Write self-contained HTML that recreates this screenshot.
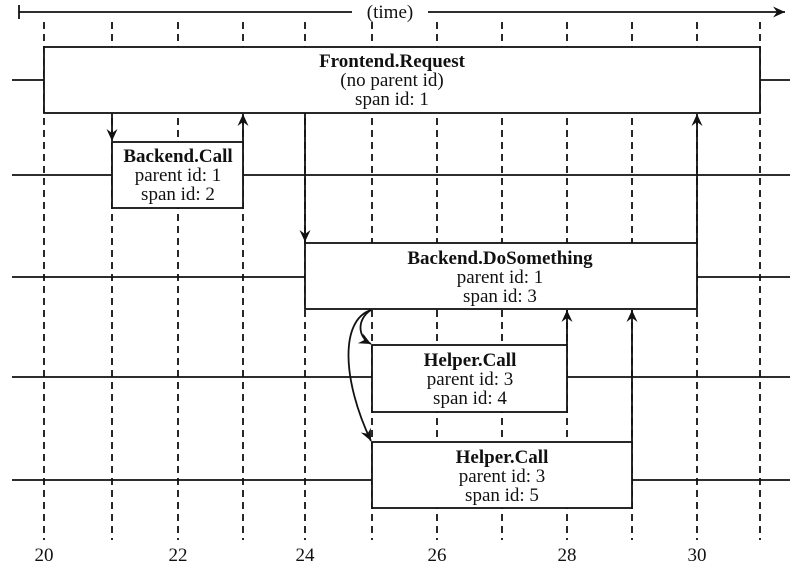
<!DOCTYPE html>
<html><head><meta charset="utf-8"><style>html,body{margin:0;padding:0;background:#fff}svg{display:block}</style></head>
<body>
<svg width="800" height="570" xmlns="http://www.w3.org/2000/svg" font-family="Liberation Serif, serif" font-size="19">
<defs>
<marker id="a" markerWidth="14" markerHeight="14" refX="12" refY="6" orient="auto" markerUnits="userSpaceOnUse">
<path d="M0,0.5 L12,6 L0,11.5 L4,6 Z" fill="#111"/></marker>
</defs>
<g stroke="#111" stroke-width="1.8" fill="none">
<line x1="19" y1="5" x2="19" y2="19"/>
<line x1="19" y1="12" x2="352" y2="12"/>
<line x1="428" y1="12" x2="785" y2="12" marker-end="url(#a)"/>
<g stroke-dasharray="7,5">
<line x1="44" y1="22" x2="44" y2="540"/>
<line x1="112" y1="22" x2="112" y2="540"/>
<line x1="178" y1="22" x2="178" y2="540"/>
<line x1="243" y1="22" x2="243" y2="540"/>
<line x1="305" y1="22" x2="305" y2="540"/>
<line x1="372" y1="22" x2="372" y2="540"/>
<line x1="437" y1="22" x2="437" y2="540"/>
<line x1="502" y1="22" x2="502" y2="540"/>
<line x1="567" y1="22" x2="567" y2="540"/>
<line x1="632" y1="22" x2="632" y2="540"/>
<line x1="697" y1="22" x2="697" y2="540"/>
<line x1="760" y1="22" x2="760" y2="540"/>
</g>
<line x1="12" y1="80" x2="44" y2="80"/><line x1="760" y1="80" x2="790" y2="80"/>
<line x1="12" y1="175" x2="112" y2="175"/><line x1="243" y1="175" x2="790" y2="175"/>
<line x1="12" y1="277" x2="305" y2="277"/><line x1="697" y1="277" x2="790" y2="277"/>
<line x1="12" y1="377" x2="372" y2="377"/><line x1="567" y1="377" x2="790" y2="377"/>
<line x1="12" y1="480" x2="372" y2="480"/><line x1="632" y1="480" x2="790" y2="480"/>
</g>
<g stroke="#111" stroke-width="1.8" fill="#fff">
<rect x="44" y="47" width="716" height="66"/>
<rect x="112" y="142" width="131" height="66"/>
<rect x="305" y="243" width="392" height="66"/>
<rect x="372" y="345" width="195" height="67"/>
<rect x="372" y="442" width="260" height="66"/>
</g>
<g stroke="#111" stroke-width="1.8" fill="none">
<line x1="112" y1="113" x2="112" y2="141" marker-end="url(#a)"/>
<line x1="243" y1="142" x2="243" y2="114" marker-end="url(#a)"/>
<line x1="305" y1="113" x2="305" y2="242" marker-end="url(#a)"/>
<line x1="697" y1="243" x2="697" y2="114" marker-end="url(#a)"/>
<line x1="567" y1="345" x2="567" y2="310" marker-end="url(#a)"/>
<line x1="632" y1="442" x2="632" y2="310" marker-end="url(#a)"/>
<path d="M371,310 C358,318 356,336 371,344" marker-end="url(#a)"/>
<path d="M371,310 C340,320 342,380 371,441" marker-end="url(#a)"/>
</g>
<g fill="#111" text-anchor="middle">
<text x="390" y="18">(time)</text>
<text x="392" y="67" font-weight="bold">Frontend.Request</text>
<text x="392" y="86">(no parent id)</text>
<text x="392" y="105">span id: 1</text>
<text x="178" y="162" font-weight="bold">Backend.Call</text>
<text x="178" y="181">parent id: 1</text>
<text x="178" y="200">span id: 2</text>
<text x="500" y="264" font-weight="bold">Backend.DoSomething</text>
<text x="500" y="283">parent id: 1</text>
<text x="500" y="302">span id: 3</text>
<text x="470" y="366" font-weight="bold">Helper.Call</text>
<text x="470" y="385">parent id: 3</text>
<text x="470" y="404">span id: 4</text>
<text x="502" y="463" font-weight="bold">Helper.Call</text>
<text x="502" y="482">parent id: 3</text>
<text x="502" y="501">span id: 5</text>
<text x="44" y="561">20</text>
<text x="178" y="561">22</text>
<text x="305" y="561">24</text>
<text x="437" y="561">26</text>
<text x="567" y="561">28</text>
<text x="697" y="561">30</text>
</g>
</svg>
</body></html>
